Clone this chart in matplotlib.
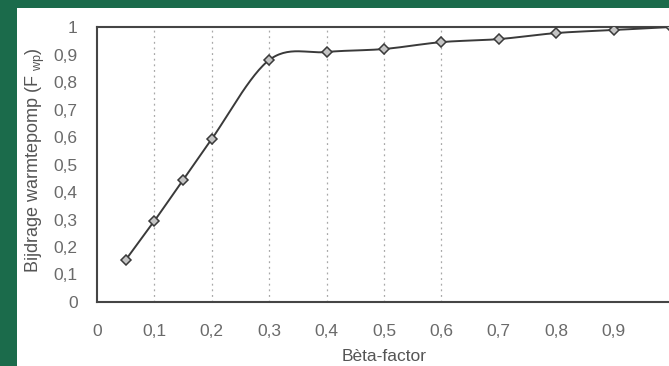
import numpy as np
import matplotlib.pyplot as plt
from matplotlib.patches import Rectangle

# Bijdrage warmtepomp as a function of the beta factor
beta = [0.05, 0.1, 0.15, 0.2, 0.3, 0.4, 0.5, 0.6, 0.7, 0.8, 0.9, 1.0]
f_wp = [0.153, 0.295, 0.444, 0.593, 0.88, 0.909, 0.92, 0.945, 0.956, 0.978, 0.989, 1.0]
x_ticks = [0, 0.1, 0.2, 0.3, 0.4, 0.5, 0.6, 0.7, 0.8, 0.9]
x_ticklabels = ["0", "0,1", "0,2", "0,3", "0,4", "0,5", "0,6", "0,7", "0,8", "0,9"]
y_ticks = [0, 0.1, 0.2, 0.3, 0.4, 0.5, 0.6, 0.7, 0.8, 0.9, 1.0]
y_ticklabels = ["0", "0,1", "0,2", "0,3", "0,4", "0,5", "0,6", "0,7", "0,8", "0,9", "1"]
grid_x = [0.1, 0.2, 0.3, 0.4, 0.5, 0.6, 1.0]


def smooth(xs, ys, n=30):
    # Excel style smoothed line: Catmull-Rom segments between the points
    p = np.column_stack([xs, ys])
    p = np.vstack([p[0], p, p[-1]])
    out = []
    t = np.linspace(0, 1, n)[:, None]
    for i in range(1, len(p) - 2):
        p0, p1, p2, p3 = p[i - 1], p[i], p[i + 1], p[i + 2]
        seg = 0.5 * ((2 * p1) + (-p0 + p2) * t
                     + (2 * p0 - 5 * p1 + 4 * p2 - p3) * t ** 2
                     + (-p0 + 3 * p1 - 3 * p2 + p3) * t ** 3)
        out.append(seg)
    out = np.vstack(out)
    return out[:, 0], out[:, 1]


plt.rcParams['font.family'] = ['Liberation Sans', 'DejaVu Sans']
grey = '#6a6a6a'

fig = plt.figure(figsize=(6.69, 3.66), dpi=100)
fig.patch.set_facecolor('#1b6b4b')
fig.add_artist(Rectangle((17 / 669, 0), 1, 358 / 366, transform=fig.transFigure,
                         facecolor='white', edgecolor='none', zorder=-10))

ax = fig.add_axes([97 / 669, 64 / 366, 574 / 669, 275 / 366])
ax.set_zorder(1)
ax.set_facecolor('white')

for gx in grid_x:
    ax.axvline(gx, color='#a8a8a8', lw=0.9, ls=(0, (1.5, 3)), zorder=1)

sx, sy = smooth(beta, f_wp)
ax.plot(sx, sy, color='#3a3a3a', lw=1.4, zorder=3)
ax.plot(beta, f_wp, ls='none', marker='D', ms=5, mfc='#c4c4c4', mec='#3a3a3a',
        mew=1.1, zorder=4)

ax.set_xlim(0, 1.0)
ax.set_ylim(0, 1.0)
ax.set_xticks(x_ticks)
ax.set_xticklabels(x_ticklabels)
ax.set_yticks(y_ticks)
ax.set_yticklabels(y_ticklabels)
ax.tick_params(length=0, colors=grey, labelsize=12.5)
ax.tick_params(axis='x', pad=16)
ax.tick_params(axis='y', pad=14)

for side in ['left', 'top', 'bottom']:
    ax.spines[side].set_color('#454545')
    ax.spines[side].set_linewidth(1.5)
ax.spines['right'].set_visible(False)

ax.set_xlabel('Bèta-factor', color='#555555', fontsize=12.5, labelpad=7)
ax.set_ylabel(r'Bijdrage warmtepomp (F $_{\mathregular{wp}}$)', color='#555555',
              fontsize=13)
ax.yaxis.set_label_coords(-0.087, 0.516)

fig.savefig('out.png', dpi=100, facecolor=fig.get_facecolor())
